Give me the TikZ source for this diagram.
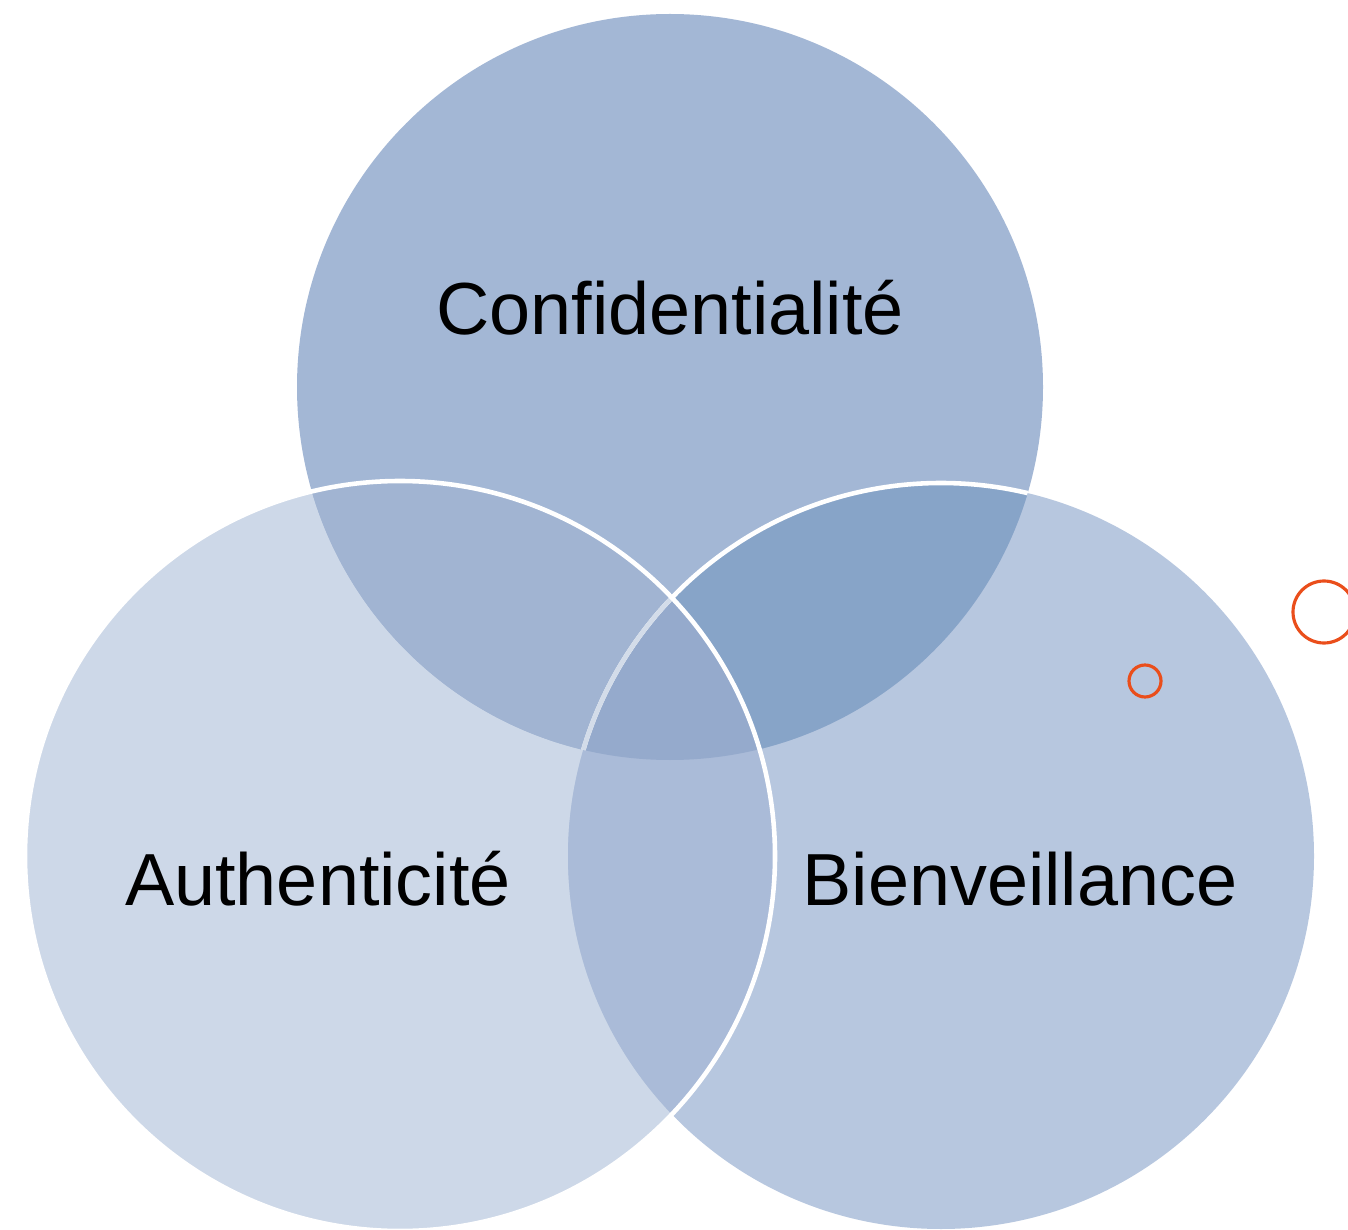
\documentclass[tikz,border=0pt]{standalone}
\usepackage{fontspec}
\setmainfont{Liberation Sans}
\definecolor{topblue}{HTML}{A3B7D5}
\definecolor{leftblue}{HTML}{CDD8E8}
\definecolor{rightblue}{HTML}{B7C7DF}
\definecolor{tlblue}{HTML}{A1B4D2}
\definecolor{trblue}{HTML}{87A4C8}
\definecolor{lrblue}{HTML}{AABBD8}
\definecolor{midblue}{HTML}{95AACC}
\definecolor{fadewhite}{HTML}{D3DCE9}
\definecolor{redmark}{HTML}{EA4E1B}
\begin{document}
\begin{tikzpicture}
        [
            ring/.style = {draw = white, line width = 1.3pt},
            word/.style = {font = \fontsize{21}{25}\selectfont, anchor = base},
            redring/.style = {circle, draw = redmark, line width = 0.9pt, inner sep = 0pt}
        ]
        \useasboundingbox (0,0) rectangle (13.48,12.29);
        \clip (0,0) rectangle (13.48,12.29);

        \coordinate (conf) at (6.70,8.42);
        \coordinate (auth) at (4.00,3.73);
        \coordinate (bien) at (9.41,3.73);

        % the three sets
        \fill[leftblue] (auth) circle (3.75);
        \fill[rightblue] (bien) circle (3.73);
        \fill[topblue] (conf) circle (3.73);
        \begin{scope}
            \clip (conf) circle (3.73);
            \fill[tlblue] (auth) circle (3.75);
            \fill[trblue] (bien) circle (3.73);
        \end{scope}
        \begin{scope}
            \clip (auth) circle (3.75);
            \fill[lrblue] (bien) circle (3.73);
            \clip (bien) circle (3.73);
            \fill[midblue] (conf) circle (3.73);
        \end{scope}

        % outlines
        \begin{scope}
            \clip (conf) circle (3.73);
            \draw[ring] (bien) circle (3.73);
            \clip (auth) circle (3.75);
            \draw[ring, draw = fadewhite] (bien) circle (3.73);
        \end{scope}
        \draw[ring] (auth) circle (3.75);

        \node[word] (confword) at (6.70,8.94) {Confidentialité};
        \node[word] (authword) at (3.18,3.24) {Authenticité};
        \node[word] (bienword) at (10.20,3.24) {Bienveillance};

        \node[redring, minimum size = 0.32cm] (spot) at (11.45,5.48) {};
        \node[redring, minimum size = 0.62cm] (bigspot) at (13.24,6.17) {};
\end{tikzpicture}
\end{document}
